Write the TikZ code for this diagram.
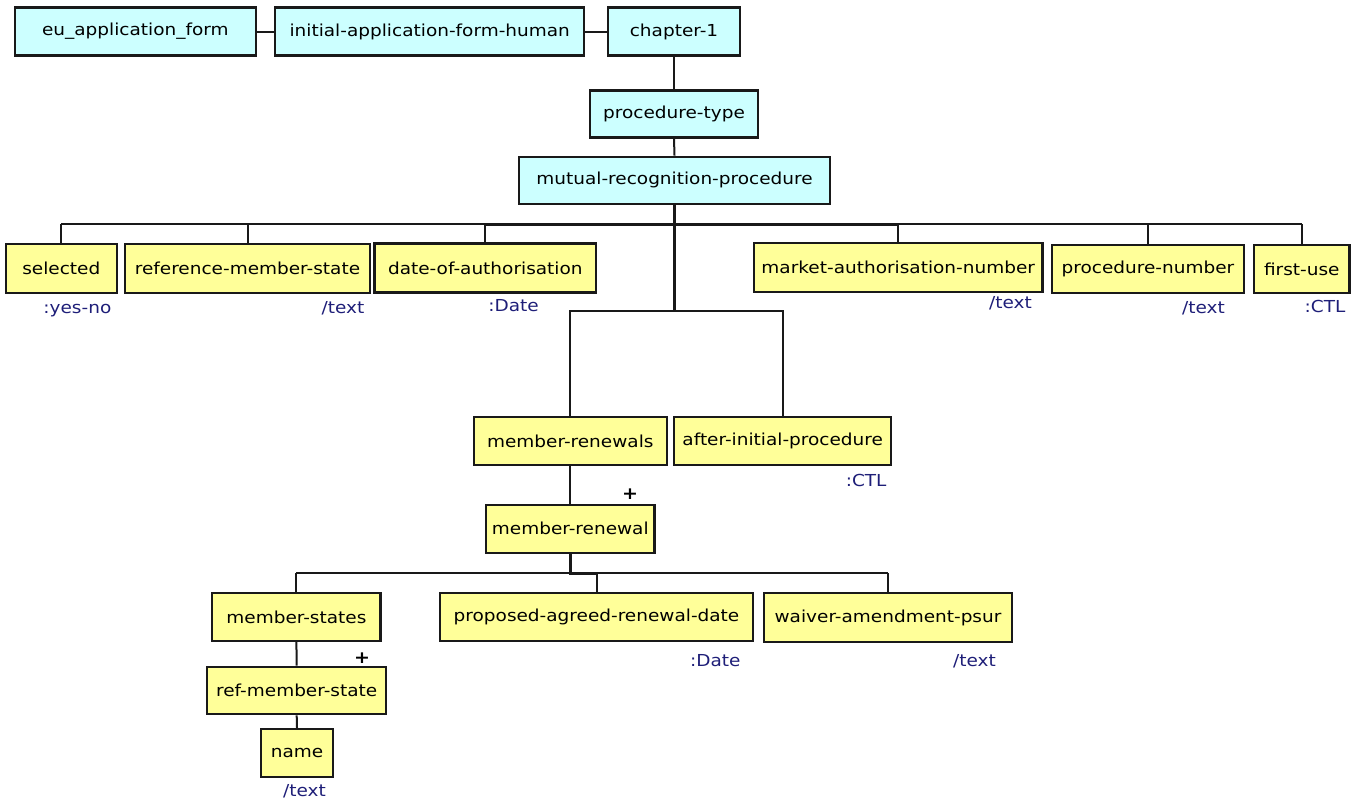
\documentclass[tikz,border=0pt]{standalone}
\usepackage{fontspec}
\setmainfont{DejaVu Sans}[FakeStretch=1.12]
\begin{document}
\definecolor{boxcyan}{RGB}{204,255,255}
\definecolor{boxyellow}{RGB}{255,255,153}
\definecolor{typeblue}{RGB}{30,30,120}
\begin{tikzpicture}[x=1pt,y=-1pt,
  every node/.style={font=\fontsize{16.5}{20}\selectfont},
  basebox/.style={draw=black!90, line width=2.2pt, inner sep=0pt, align=center},
  cbox/.style={basebox, fill=boxcyan},
  ybox/.style={basebox, fill=boxyellow},
  dtype/.style={text=typeblue, anchor=base east, inner sep=0pt},
  mult/.style={font=\fontsize{17}{20}\selectfont\bfseries, inner sep=0pt},
  conn/.style={line width=2pt, black!90},
  thickconn/.style={line width=3pt, black!90}]
\useasboundingbox (0,0) rectangle (1364,803);

% header chain
\node[cbox, minimum width=241pt, minimum height=48pt] (eu) at (135.3,31.5) {eu\_application\_form};
\node[cbox, minimum width=309pt, minimum height=48pt] (init) at (429.7,31.5) {initial-application-form-human};
\node[cbox, minimum width=132pt, minimum height=48pt] (ch1) at (674,31.5) {chapter-1};
\node[cbox, minimum width=168pt, minimum height=47pt] (ptype) at (674,114) {procedure-type};
\node[cbox, minimum width=311pt, minimum height=47pt] (mrp) at (674.5,180.3) {mutual-recognition-procedure};

% first level of elements
\node[ybox, minimum width=110.6pt, minimum height=49pt] (sel) at (61.3,268.8) {selected};
\node[ybox, minimum width=245pt, minimum height=49pt] (refms) at (247.5,268.8) {reference-member-state};
\node[ybox, minimum width=221.5pt, minimum height=49pt] (doa) at (485.3,268) {date-of-authorisation};
\node[ybox, minimum width=288.5pt, minimum height=48.7pt] (man) at (898.2,267.7) {market-authorisation-number};
\node[ybox, minimum width=192.2pt, minimum height=48pt] (pn) at (1147.9,268.7) {procedure-number};
\node[ybox, minimum width=95.5pt, minimum height=48pt] (fu) at (1301.8,269.3) {first-use};

\node[ybox, minimum width=192.7pt, minimum height=47.7pt] (mrs) at (570.3,441.2) {member-renewals};
\node[ybox, minimum width=216.7pt, minimum height=47.7pt] (aip) at (782.7,441.2) {after-initial-procedure};
\node[ybox, minimum width=168.3pt, minimum height=47.7pt] (mr) at (570.3,528.8) {member-renewal};

\node[ybox, minimum width=168.3pt, minimum height=47.7pt] (ms) at (296.4,617.2) {member-states};
\node[ybox, minimum width=312.4pt, minimum height=47.7pt] (pard) at (596.5,617.2) {proposed-agreed-renewal-date};
\node[ybox, minimum width=247.4pt, minimum height=48.4pt] (wap) at (888,617.5) {waiver-amendment-psur};
\node[ybox, minimum width=178.7pt, minimum height=47.6pt] (rms) at (296.7,690.5) {ref-member-state};
\node[ybox, minimum width=72.3pt, minimum height=47.7pt] (nm) at (297,752.8) {name};

% data types
\node[dtype] (t1) at (111.5,313) {:yes-no};
\node[dtype] (t2) at (364.6,313) {/text};
\node[dtype] (t3) at (539,311) {:Date};
\node[dtype] (t4) at (1032,308) {/text};
\node[dtype] (t5) at (1225,313) {/text};
\node[dtype] (t6) at (1345.6,312) {:CTL};
\node[dtype] (t7) at (886.7,486) {:CTL};
\node[dtype] (t8) at (740.7,666) {:Date};
\node[dtype] (t9) at (996,666) {/text};
\node[dtype] (t10) at (326,796) {/text};

% multiplicity marks
\node[mult] (p1) at (630,494) {+};
\node[mult] (p2) at (362,658) {+};

% bus levels
\coordinate (b1) at (0,224);
\coordinate (b2) at (0,311);
\coordinate (b3) at (0,573);

% connectors
\draw[conn] (eu.east) -- (init.west);
\draw[conn] (init.east) -- (ch1.west);
\draw[conn] (ch1.south) -- (ptype.north);
\draw[conn] (ptype.south) -- (mrp.north);

\draw[thickconn] (mrp.south) -- (mrp.south |- b2);
\draw[conn] (sel.north |- b1) -- (fu.north |- b1);
\draw[thickconn] (doa.north |- b1) -- (man.north |- b1);
\foreach \n in {sel,refms,doa,man,pn,fu}
  \draw[conn] (\n.north) -- (\n.north |- b1);

\draw[conn] (mrs.north) |- (aip.north |- b2) -- (aip.north);
\draw[conn] (mrs.south) -- (mr.north);

\draw[thickconn] (mr.south) -- (mr.south |- b3) -- (pard.north |- b3);
\draw[conn] (ms.north |- b3) -- (wap.north |- b3);
\foreach \n in {ms,pard,wap}
  \draw[conn] (\n.north) -- (\n.north |- b3);

\draw[conn] (ms.south) -- (rms.north);
\draw[conn] (rms.south) -- (nm.north);
\end{tikzpicture}
\end{document}
